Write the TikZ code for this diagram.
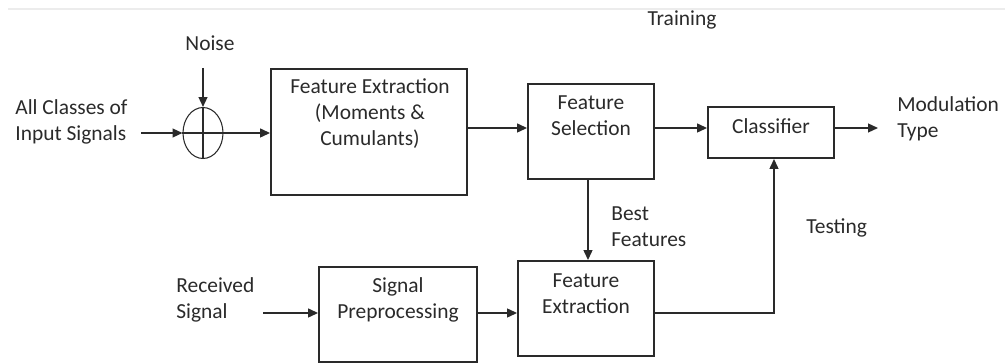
\documentclass[tikz,border=0pt]{standalone}
\usepackage{fontspec}
\setmainfont{Carlito}
\usetikzlibrary{arrows.meta,shapes.geometric}
\definecolor{ink}{HTML}{2a2a2a}
\tikzset{
  blockbox/.style={draw=ink, line width=1.1pt, rectangle, inner sep=0pt},
  sumnode/.style={draw=ink, line width=0.6pt, ellipse, inner sep=0pt, minimum width=0.8cm, minimum height=1.02cm},
  txt/.style={text=ink, font=\fontsize{12.2}{14.8}\selectfont, align=center, inner sep=0pt},
  lbl/.style={txt, align=left, anchor=west},
  flow/.style={draw=ink, line width=0.85pt, -{Triangle[length=5.6pt,width=5pt]}}
}
\begin{document}
\begin{tikzpicture}[x=0.02cm, y=-0.02cm]
    \useasboundingbox (0,0) rectangle (1005,364);
    \draw[gray!15, line width=1.5pt] (8,9) -- (1005,9);

    % blocks
    \node[sumnode] (sum) at (203,133) {};
    \node[blockbox, minimum width=3.92cm, minimum height=2.52cm] (fe1) at (369,132) {};
    \node[blockbox, minimum width=2.52cm, minimum height=1.9cm] (fs) at (591,131.5) {};
    \node[blockbox, minimum width=2.52cm, minimum height=1.02cm] (cls) at (771,132.5) {};
    \node[blockbox, minimum width=3.16cm, minimum height=1.9cm] (sp) at (398,314.5) {};
    \node[blockbox, minimum width=2.72cm, minimum height=1.9cm] (fe2) at (586,308.5) {};
    \draw[ink, line width=0.6pt] (sum.north) -- (sum.south);
    \draw[ink, line width=0.6pt] (sum.west) -- (sum.east);

    % texts
    \node[txt] (fe1txt) at (370,114) {Feature Extraction\\(Moments \&\\Cumulants)};
    \node[txt] (fstxt) at (591,116) {Feature\\Selection};
    \node[txt] (clstxt) at (771,126) {Classifier};
    \node[txt] (sptxt) at (398,299.5) {Signal\\Preprocessing};
    \node[txt] (fe2txt) at (586,293.5) {Feature\\Extraction};
    \node[txt] (noise) at (210,43) {Noise};
    \node[txt] (train) at (682,20) {Training};
    \node[lbl] (input) at (15,121.5) {All Classes of\\Input Signals};
    \node[lbl] (recv) at (176,299.5) {Received\\Signal};
    \node[lbl] (modtype) at (897,118.5) {Modulation\\Type};
    \node[lbl] (best) at (611,227) {Best\\Features};
    \node[lbl] (test) at (806,228) {Testing};

    % free ends
    \coordinate (inend) at (141,133);
    \coordinate (noiseend) at (203,68);
    \coordinate (recvend) at (263,313);
    \coordinate (outend) at (878,128);
    \coordinate (mainline) at (0,128);

    % connectors
    \draw[flow] (inend) -- (sum.west);
    \draw[flow] (noiseend) -- (sum.north);
    \draw[flow] (sum.east) -- (fe1.west |- sum);
    \draw[flow] (fe1.east |- mainline) -- (fs.west |- mainline);
    \draw[flow] (fs.east |- mainline) -- (cls.west |- mainline);
    \draw[flow] (cls.east |- mainline) -- (outend);
    \draw[flow] (fs.south -| 588,0) -- (fe2.north -| 588,0);
    \draw[flow] (recvend) -- (sp.west |- recvend);
    \draw[flow] (sp.east |- recvend) -- (fe2.west |- recvend);
    \draw[flow] (fe2.east |- recvend) -| (cls.south -| 774,0);
\end{tikzpicture}
\end{document}
